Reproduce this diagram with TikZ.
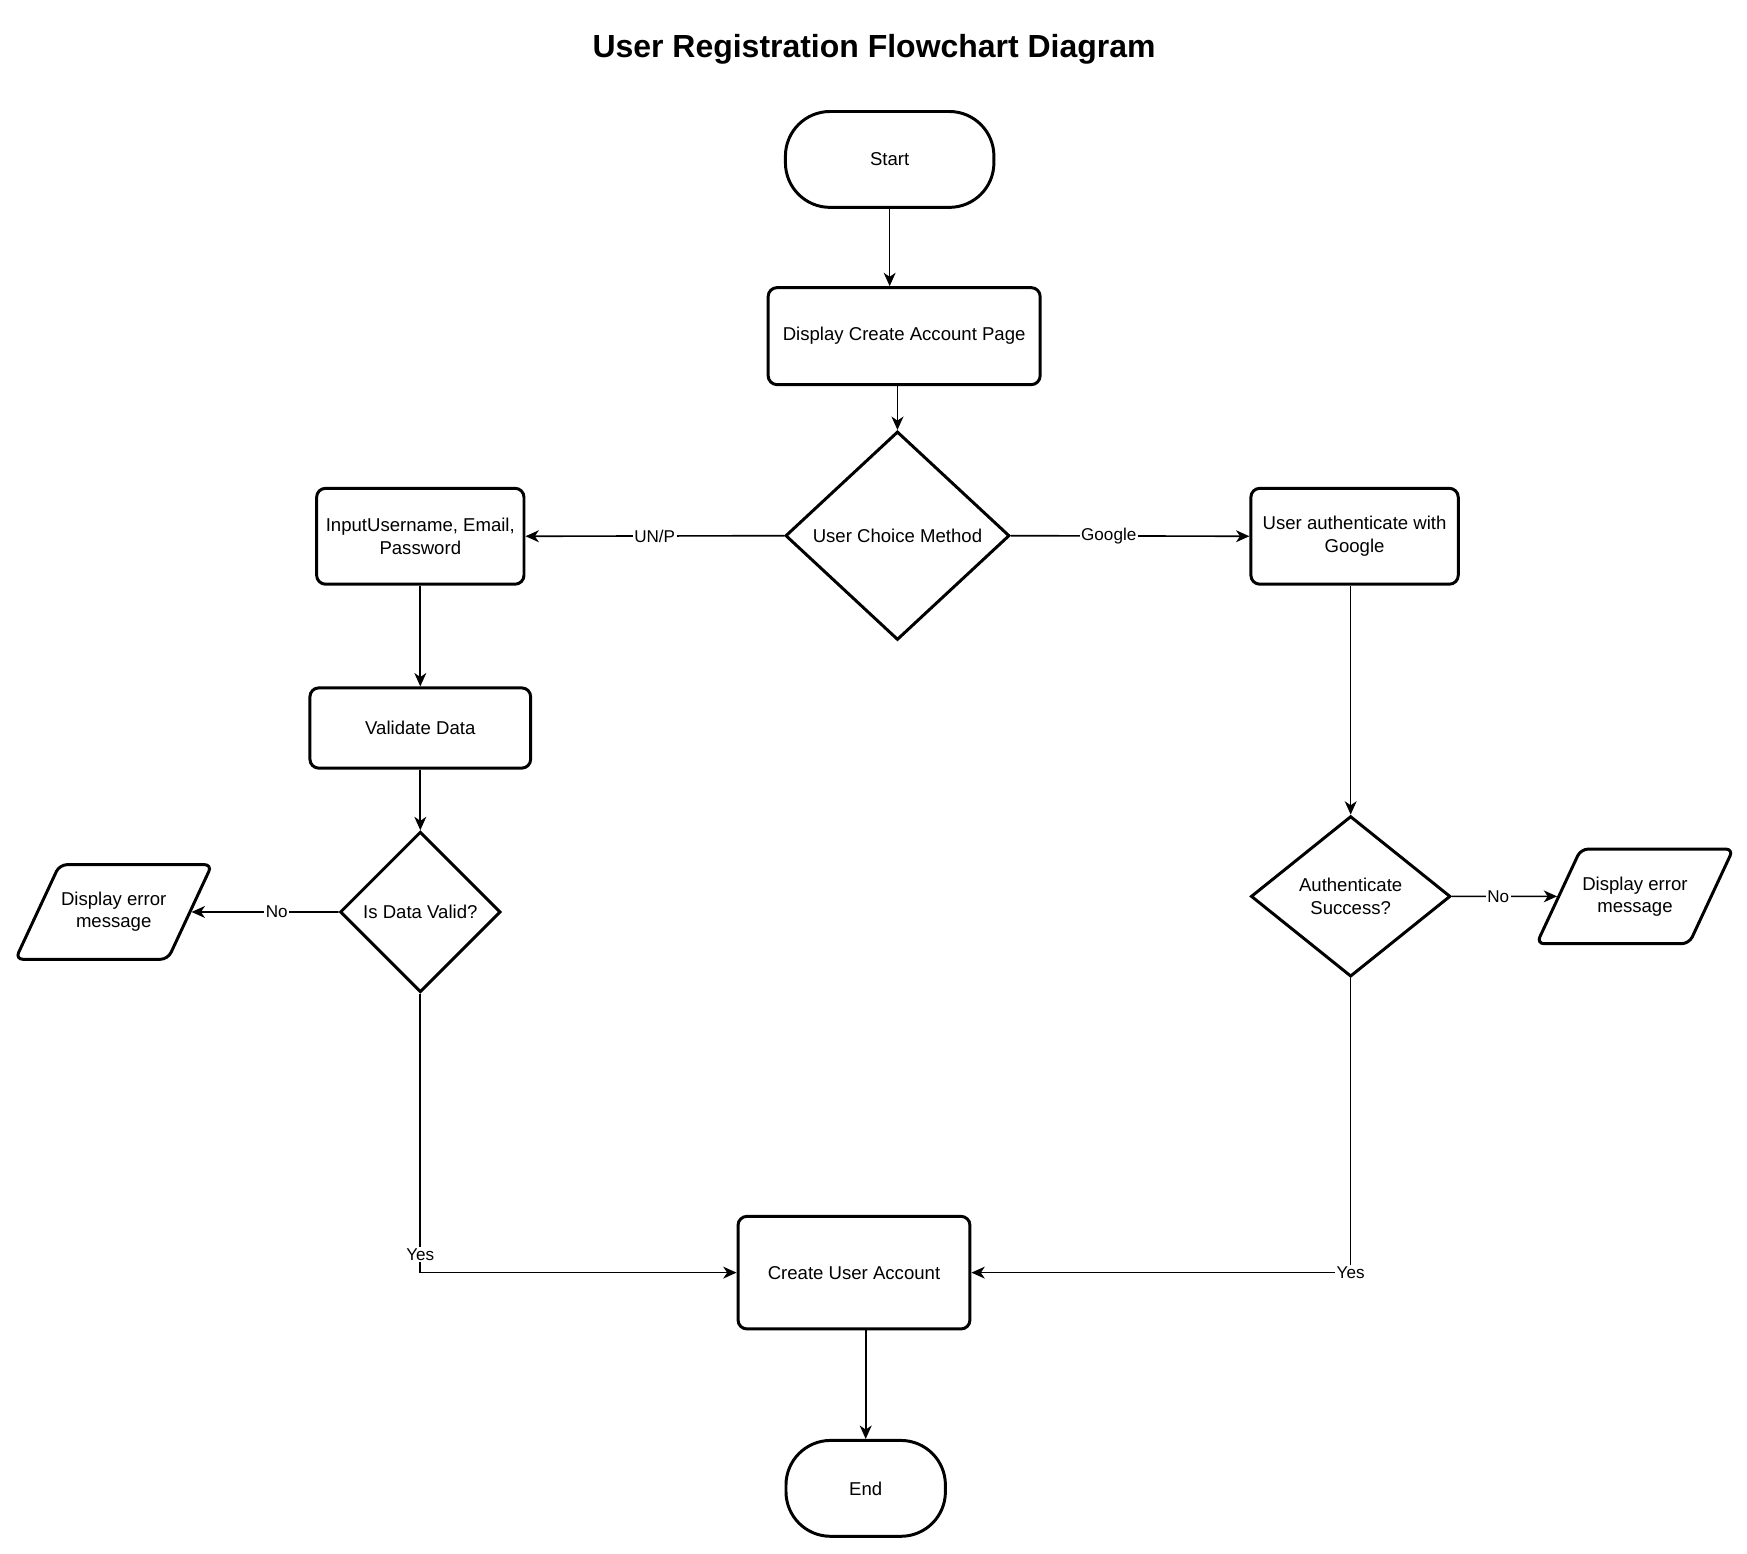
\documentclass[tikz,border=0pt]{standalone}
\usepackage{fontspec}
\setmainfont{Liberation Sans}
\usetikzlibrary{positioning,shapes.geometric,arrows.meta}

\tikzset{
  term/.style={draw,line width=2pt,rounded corners=30pt,align=center,font=\fontsize{12.5}{15}\selectfont},
  proc/.style={draw,line width=2pt,rounded corners=6pt,align=center,font=\fontsize{12.5}{15}\selectfont},
  dec/.style={draw,diamond,line width=2pt,inner sep=0pt,align=center,font=\fontsize{12.5}{15}\selectfont},
  iobox/.style={draw,trapezium,trapezium left angle=65,trapezium right angle=115,
    line width=2pt,rounded corners=5pt,inner xsep=1pt,inner ysep=18.5pt,align=center,font=\fontsize{12.5}{15}\selectfont},
  lbl/.style={fill=white,inner sep=1pt,font=\fontsize{11.5}{13}\selectfont},
}

\begin{document}
\begin{tikzpicture}[x=0.75pt,y=0.75pt,yscale=-1,xscale=1,line width=1.1pt,
  >={Stealth[length=9pt,width=8pt,inset=2.7pt]}]
%set diagram left start at 0, and has height of 1393
\useasboundingbox (0,0) rectangle (1567,1393);

% Title
\draw (784,44) node [font=\fontsize{21.5}{25}\selectfont\bfseries] (title) {User Registration Flowchart Diagram};

%Shape: Terminal
\draw (798,143) node [term,minimum width=140.25pt,minimum height=64.5pt] (start) {Start};
%Shape: Rectangle
\draw (811,301.5) node [proc,minimum width=183pt,minimum height=65.25pt] (page) {Display Create Account Page};
%Shape: Diamond
\draw (805,480.5) node [dec,minimum width=150.75pt,minimum height=140.25pt] (choice) {User Choice Method};
%Shape: Rectangle
\draw (377,481) node [proc,minimum width=139.5pt,minimum height=64.5pt] (input) {InputUsername, Email,\\Password};
%Shape: Rectangle
\draw (1215,481) node [proc,minimum width=139.5pt,minimum height=64.5pt] (google) {User authenticate with\\Google};
%Shape: Rectangle
\draw (377,653) node [proc,minimum width=148.5pt,minimum height=54pt] (validate) {Validate Data};
%Shape: Diamond
\draw (377,818) node [dec,minimum width=108pt,minimum height=108pt] (dvalid) {Is Data Valid?};
%Shape: Parallelogram
\draw (102,818) node [iobox] (errL) {Display error\\message};
%Shape: Diamond
\draw (1211.5,804) node [dec,minimum width=134.25pt,minimum height=108pt] (dauth) {Authenticate\\Success?};
%Shape: Parallelogram
\draw (1466.5,804) node [iobox] (errR) {Display error\\message};
%Shape: Rectangle
\draw (766,1141.5) node [proc,minimum width=156pt,minimum height=75.75pt] (create) {Create User Account};
%Shape: Terminal
\draw (776.5,1335) node [term,minimum width=107.25pt,minimum height=64.5pt] (end) {End};

%Straight Lines
\draw [->] (start.south) -- (start.south |- page.north);
\draw [->] (page.south -| choice.north) -- (choice.north);
\draw [->] (choice.west) -- node [lbl] {UN/P} (input.east);
\draw [->] (choice.east) -- node [lbl,pos=0.41] {Google} (google.west);
\draw [->] (input) -- (validate);
\draw [->] (validate) -- (dvalid);
\draw [->] (dvalid.west) -- node [lbl,pos=0.42] {No} (errL);
\draw [->] (google.south -| dauth.north) -- (dauth.north);
\draw [->] (dauth.east) -- node [lbl,pos=0.44] {No} (errR);
\draw [->] (dvalid.south) |- node [lbl,pos=0.468] {Yes} (create.west);
\draw [->] (dauth.south) |- node [lbl,pos=0.5] {Yes} (create.east);
\draw [->] (create.south -| end.north) -- (end.north);
\end{tikzpicture}
\end{document}
